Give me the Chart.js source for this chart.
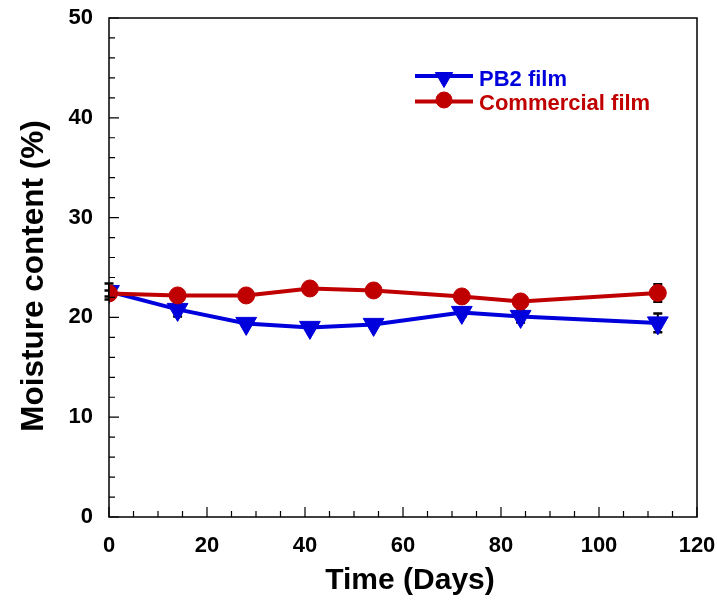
<!DOCTYPE html>
<html>
<head>
<meta charset="utf-8">
<script src="https://cdn.jsdelivr.net/npm/chart.js@4/dist/chart.umd.min.js"></script>
<style>
  html, body { margin: 0; padding: 0; background: #ffffff; }
  #wrap { width: 717px; height: 601px; position: relative; }
</style>
</head>
<body>
<div id="wrap"><canvas id="c" width="717" height="601"></canvas></div>
<script>
// Storage time (days)
const days = [0, 14, 28, 41, 54, 72, 84, 112];
// Moisture content (%) of the PB2 film and its standard deviation
const pb2Moisture = [22.6, 20.8, 19.4, 19.0, 19.3, 20.5, 20.1, 19.45];
const pb2Error = [0.8, 0.7, 0.3, 0.3, 0.3, 0.4, 0.6, 0.95];
// Moisture content (%) of the commercial film and its standard deviation
const comMoisture = [22.4, 22.2, 22.2, 22.9, 22.7, 22.1, 21.6, 22.45];
const comError = [0.3, 0.2, 0.2, 0.4, 0.3, 0.6, 0.5, 0.88];
// Axis ticks
const xTicks = [0, 20, 40, 60, 80, 100, 120];
const yTicks = [0, 10, 20, 30, 40, 50];
// Axis titles
const xTitle = 'Time (Days)';
const yTitle = 'Moisture content (%)';

const FONT = "'Liberation Sans', Arial, sans-serif";
const BLUE = '#0000dd';
const RED = '#c00000';

const toXY = (ys) => days.map((d, i) => ({ x: d, y: ys[i] }));

// Black error bars, drawn under the markers
const errorBars = {
  id: 'errorBars',
  beforeDatasetsDraw(chart) {
    const { ctx, scales: { x, y } } = chart;
    ctx.save();
    ctx.strokeStyle = '#000';
    ctx.lineWidth = 2;
    chart.data.datasets.forEach(ds => {
      ds.errors.forEach((e, i) => {
        const px = x.getPixelForValue(ds.data[i].x);
        const top = y.getPixelForValue(ds.data[i].y + e);
        const bot = y.getPixelForValue(ds.data[i].y - e);
        ctx.beginPath();
        ctx.moveTo(px, top); ctx.lineTo(px, bot);
        ctx.stroke();
        ctx.lineWidth = 2.5;
        ctx.beginPath();
        ctx.moveTo(px - 4.5, top); ctx.lineTo(px + 4.5, top);
        ctx.moveTo(px - 4.5, bot); ctx.lineTo(px + 4.5, bot);
        ctx.stroke();
        ctx.lineWidth = 2;
      });
    });
    ctx.restore();
  }
};

// Boxed frame with inward major and minor ticks, plus axis titles
const frame = {
  id: 'frame',
  afterDraw(chart) {
    const { ctx, chartArea: a, scales: { x, y } } = chart;
    ctx.save();
    ctx.strokeStyle = '#000';
    ctx.lineWidth = 1.5;
    ctx.strokeRect(a.left, a.top, a.right - a.left, a.bottom - a.top);
    ctx.lineWidth = 1.2;
    ctx.beginPath();
    for (let v = 0; v <= 120; v += 5) {
      const px = x.getPixelForValue(v);
      const len = v % 20 === 0 ? 10 : 6;
      ctx.moveTo(px, a.bottom); ctx.lineTo(px, a.bottom - len);
    }
    for (let v = 0; v <= 50; v += 2) {
      const py = y.getPixelForValue(v);
      const len = v % 10 === 0 ? 10 : 6;
      ctx.moveTo(a.left, py); ctx.lineTo(a.left + len, py);
    }
    ctx.stroke();

    ctx.fillStyle = '#000';
    ctx.textAlign = 'center';
    ctx.textBaseline = 'alphabetic';
    ctx.font = 'bold 30px ' + FONT;
    ctx.fillText(xTitle, 410, 589);

    ctx.translate(43, 276);
    ctx.rotate(-Math.PI / 2);
    ctx.font = 'bold 31.5px ' + FONT;
    ctx.fillText(yTitle, 0, 0);
    ctx.restore();
  }
};

// Legend in the upper right of the plot
const legendBox = {
  id: 'legendBox',
  afterDraw(chart) {
    const { ctx } = chart;
    const rows = [
      { ds: chart.data.datasets[1], cy: 76, base: 86 },
      { ds: chart.data.datasets[0], cy: 101.5, base: 110 }
    ];
    ctx.save();
    rows.forEach(({ ds, cy, base }) => {
      ctx.strokeStyle = ds.borderColor;
      ctx.fillStyle = ds.borderColor;
      ctx.lineWidth = 4;
      ctx.beginPath();
      ctx.moveTo(415, cy); ctx.lineTo(473, cy);
      ctx.stroke();
      ctx.lineWidth = 1;
      const isCircle = ds.pointStyle === 'circle';
      Chart.helpers.drawPoint(ctx, {
        pointStyle: ds.pointStyle,
        rotation: ds.pointRotation || 0,
        radius: isCircle ? 8 : 10,
        borderWidth: 1
      }, 444, cy + (isCircle ? -1.5 : 1.5));
      ctx.font = 'bold 22px ' + FONT;
      ctx.textBaseline = 'alphabetic';
      ctx.textAlign = 'left';
      ctx.fillText(ds.label, 479, base);
    });
    ctx.restore();
  }
};

// Pin the plot area
const fitX = (s) => { s.height = 84; s.paddingLeft = 0; s.paddingRight = 0; };
const fitY = (s) => { s.width = 109; s.paddingTop = 0; s.paddingBottom = 0; };

new Chart(document.getElementById('c'), {
  type: 'scatter',
  data: {
    datasets: [
      {
        label: 'Commercial film',
        data: toXY(comMoisture),
        errors: comError,
        showLine: true,
        borderColor: RED,
        backgroundColor: RED,
        borderWidth: 4,
        pointStyle: 'circle',
        pointRadius: 8.5,
        pointBorderWidth: 1,
        order: 0
      },
      {
        label: 'PB2 film',
        data: toXY(pb2Moisture),
        errors: pb2Error,
        showLine: true,
        borderColor: BLUE,
        backgroundColor: BLUE,
        borderWidth: 4,
        pointStyle: 'triangle',
        pointRotation: 180,
        pointRadius: 12,
        pointBorderWidth: 1,
        order: 1
      }
    ]
  },
  options: {
    responsive: false,
    animation: false,
    layout: { padding: { top: 18, right: 20, left: 0, bottom: 0 } },
    plugins: { legend: { display: false }, tooltip: { enabled: false } },
    scales: {
      x: {
        type: 'linear', min: 0, max: 120,
        afterFit: fitX,
        afterBuildTicks: (s) => { s.ticks = xTicks.map(v => ({ value: v })); },
        grid: { display: false },
        border: { display: false },
        ticks: { color: '#000', padding: 8, maxRotation: 0, font: { family: FONT, size: 22, weight: 'bold' } }
      },
      y: {
        type: 'linear', min: 0, max: 50,
        afterFit: fitY,
        afterBuildTicks: (s) => { s.ticks = yTicks.map(v => ({ value: v })); },
        grid: { display: false },
        border: { display: false },
        ticks: { color: '#000', padding: 8, font: { family: FONT, size: 22, weight: 'bold' } }
      }
    }
  },
  plugins: [errorBars, frame, legendBox]
});
</script>
</body>
</html>
